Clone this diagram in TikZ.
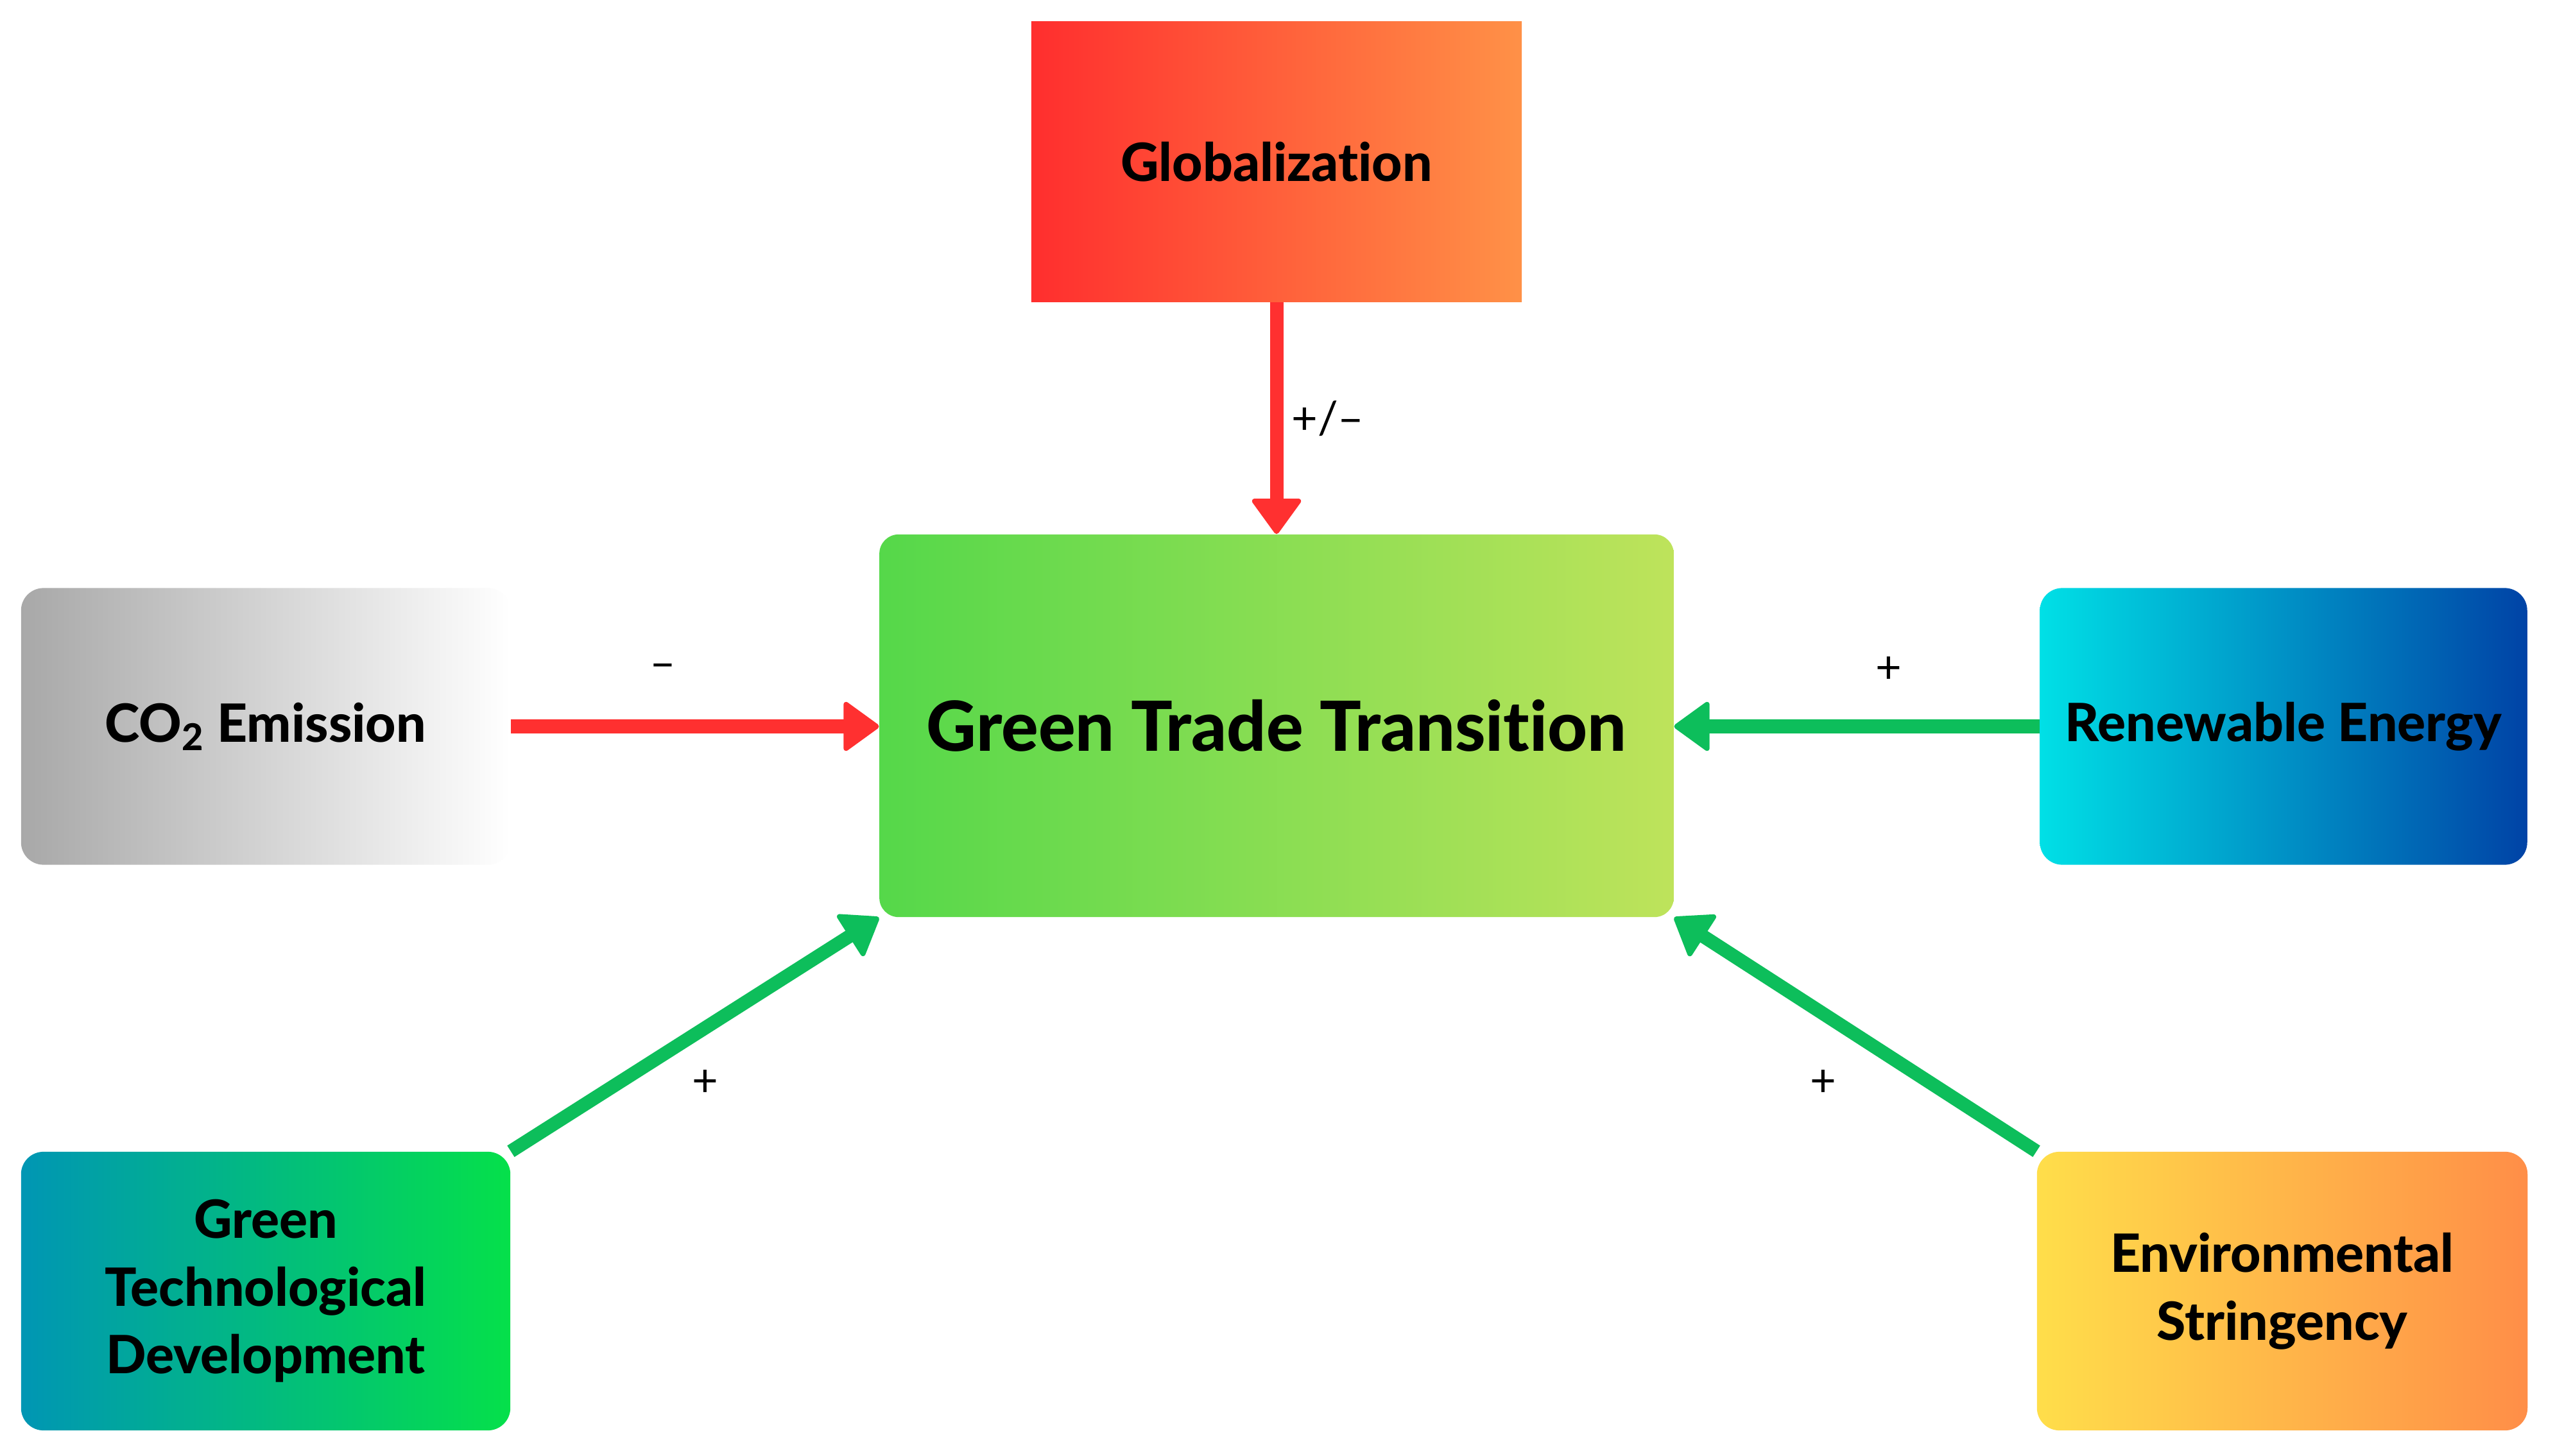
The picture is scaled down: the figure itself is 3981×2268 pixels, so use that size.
\documentclass[tikz,border=0pt]{standalone}
\usepackage{fontspec}
\setmainfont{Lato}[Ligatures=NoCommon, BoldFont={Lato Heavy}]
\usetikzlibrary{arrows.meta}
\definecolor{gloL}{HTML}{FF2E2E}
\definecolor{gloR}{HTML}{FF9147}
\definecolor{ctrL}{HTML}{55D84A}
\definecolor{ctrR}{HTML}{BEE35B}
\definecolor{coL}{HTML}{A8A8A8}
\definecolor{renL}{HTML}{00E0E6}
\definecolor{renR}{HTML}{0043A6}
\definecolor{gtdL}{HTML}{0096B4}
\definecolor{gtdR}{HTML}{05E04A}
\definecolor{envL}{HTML}{FFDE4A}
\definecolor{envR}{HTML}{FF8E48}
\definecolor{arrRed}{HTML}{FF3030}
\definecolor{arrGreen}{HTML}{0DBE5B}
\tikzset{
  box/.style={inner sep=0pt, align=center, font=\bfseries\fontsize{23.4}{30}\selectfont, text=black},
  conn/.style={line width=0.21cm, -{Triangle[round, length=0.58cm, width=0.82cm, line width=0.08cm]}},
  sign/.style={font=\fontsize{20}{24}\selectfont, text=black, inner sep=0pt}
}
\begin{document}
\begin{tikzpicture}[x=0.01cm,y=0.01cm]
\useasboundingbox[fill=white] (0,0) rectangle (3981,2268);

\node[box, minimum width=7.64cm, minimum height=4.37cm, left color=gloL, right color=gloR] (glob) at (1989,2016) {Globalization};
\node[box, minimum width=12.37cm, minimum height=5.96cm, rounded corners=0.3cm, left color=ctrL, right color=ctrR, font=\bfseries\fontsize{30.6}{36}\selectfont] (ctr) at (1989,1137) {Green Trade Transition};
\node[box, minimum width=7.62cm, minimum height=4.31cm, rounded corners=0.35cm, left color=coL, right color=white] (co2) at (414,1136) {CO\textsubscript{2} Emission};
\node[box, minimum width=7.59cm, minimum height=4.31cm, rounded corners=0.35cm, left color=renL, right color=renR] (ren) at (3558,1136) {Renewable Energy};
\node[box, minimum width=7.62cm, minimum height=4.34cm, rounded corners=0.35cm, left color=gtdL, right color=gtdR] (gtd) at (414,256) {Green\\Technological\\Development};
\node[box, minimum width=7.64cm, minimum height=4.34cm, rounded corners=0.35cm, left color=envL, right color=envR] (env) at (3556,256) {Environmental\\Stringency};

\draw[conn, arrRed] (glob.south) -- (ctr.north);
\draw[conn, arrRed] (co2.east) -- (co2.east -| ctr.west);
\draw[conn, arrGreen] (ren.west) -- (ren.west -| ctr.east);
\draw[conn, arrGreen] (gtd.north east) -- (ctr.south west);
\draw[conn, arrGreen] (env.north west) -- (ctr.south east);

\node[sign] (s1) at (2069,1616) {+/–};
\node[sign] (s2) at (1033,1222) {–};
\node[sign] (s3) at (2943,1224) {+};
\node[sign] (s4) at (1099,580) {+};
\node[sign] (s5) at (2841,580) {+};
\end{tikzpicture}
\end{document}
